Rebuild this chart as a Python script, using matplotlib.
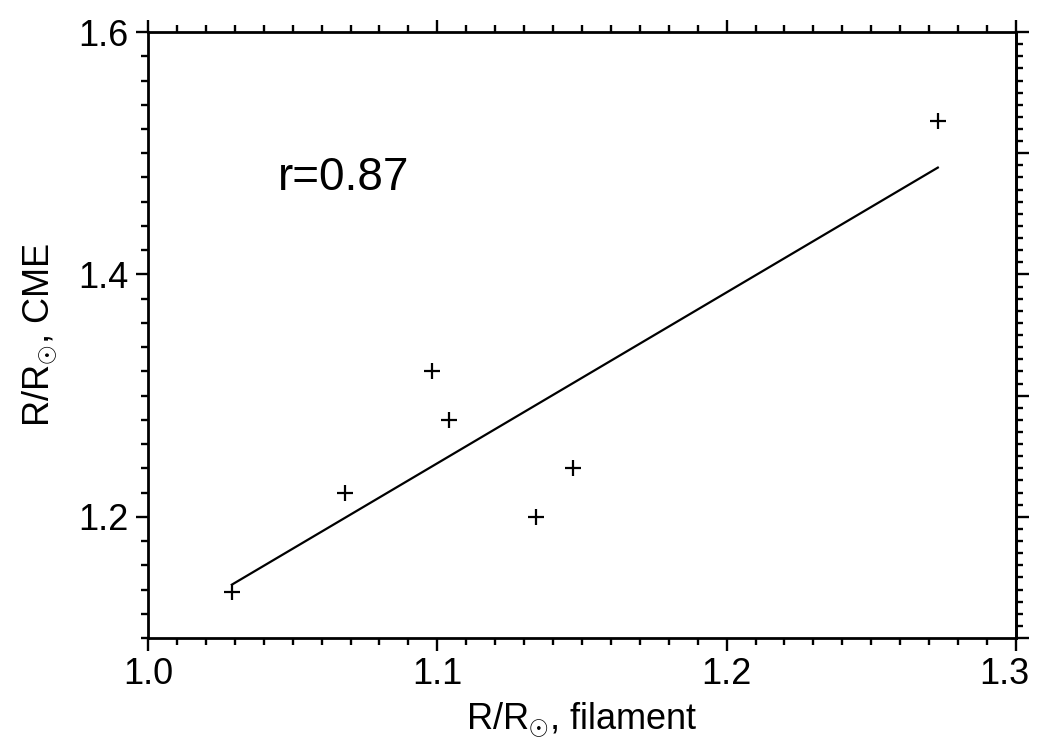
import numpy as np
import matplotlib
matplotlib.use('Agg')
import matplotlib.pyplot as plt
from matplotlib.ticker import MultipleLocator, NullFormatter, FormatStrFormatter
from matplotlib.transforms import ScaledTranslation

# filament height vs CME height (solar radii)
r_filament = [1.029, 1.068, 1.098, 1.104, 1.134, 1.147, 1.273]
r_cme = [1.138, 1.22, 1.32, 1.28, 1.20, 1.24, 1.527]

plt.rcParams['font.family'] = ['Liberation Sans', 'DejaVu Sans']
plt.rcParams['mathtext.fontset'] = 'custom'
plt.rcParams['mathtext.rm'] = 'Liberation Sans'
plt.rcParams['mathtext.it'] = 'Liberation Sans'

x = np.array(r_filament)
y = np.array(r_cme)
slope, intercept = np.polyfit(x, y, 1)
r = np.corrcoef(x, y)[0, 1]

fig = plt.figure(figsize=(10.37, 7.45), dpi=100)
ax = fig.add_axes([0.1427, 0.1436, 0.837, 0.8134])

ax.plot(x, y, '+', color='black', markersize=11, mew=1.6)
xf = np.array([x.min(), x.max()])
ax.plot(xf, slope * xf + intercept, '-', color='black', lw=1.6)

ax.text(1.045, 1.47, 'r=%.2f' % r, fontsize=33)

ax.set_xlim(1.0, 1.3)
ax.set_ylim(1.1, 1.6)
ax.xaxis.set_major_locator(MultipleLocator(0.1))
ax.xaxis.set_minor_locator(MultipleLocator(0.01))
ax.yaxis.set_major_locator(MultipleLocator(0.2))
ax.yaxis.set_minor_locator(MultipleLocator(0.02))
ax.xaxis.set_major_formatter(FormatStrFormatter('%.1f'))
ax.yaxis.set_major_formatter(FormatStrFormatter('%.1f'))

for s in ax.spines.values():
    s.set_linewidth(2)

ax.tick_params(which='both', direction='out', width=1.7, labelsize=26)
ax.tick_params(which='major', length=9, pad=5)
ax.tick_params(which='minor', length=5)
ax.tick_params(axis='x', which='both', top=True, labeltop=False)

# right axis carries finer ticks than the left
ay = ax.secondary_yaxis('right')
ay.yaxis.set_major_locator(MultipleLocator(0.1))
ay.yaxis.set_minor_locator(MultipleLocator(0.01))
ay.yaxis.set_major_formatter(NullFormatter())
ay.tick_params(which='both', direction='out', width=1.7)
ay.tick_params(which='major', length=9)
ay.tick_params(which='minor', length=5)
ay.spines['right'].set_linewidth(2)

ax.set_xlabel(r'R/R$_{\odot}$, filament', fontsize=26, labelpad=6)
ax.set_ylabel(r'R/R$_{\odot}$, CME', fontsize=26, labelpad=14)

# pull the 1.3 label in so it stays inside the figure
fig.canvas.draw()
for tick in ax.xaxis.get_major_ticks():
    if abs(tick.get_loc() - 1.3) < 1e-6:
        lab = tick.label1
        lab.set_transform(lab.get_transform() + ScaledTranslation(-0.12, 0, fig.dpi_scale_trans))

fig.savefig('out.png', dpi=100)
